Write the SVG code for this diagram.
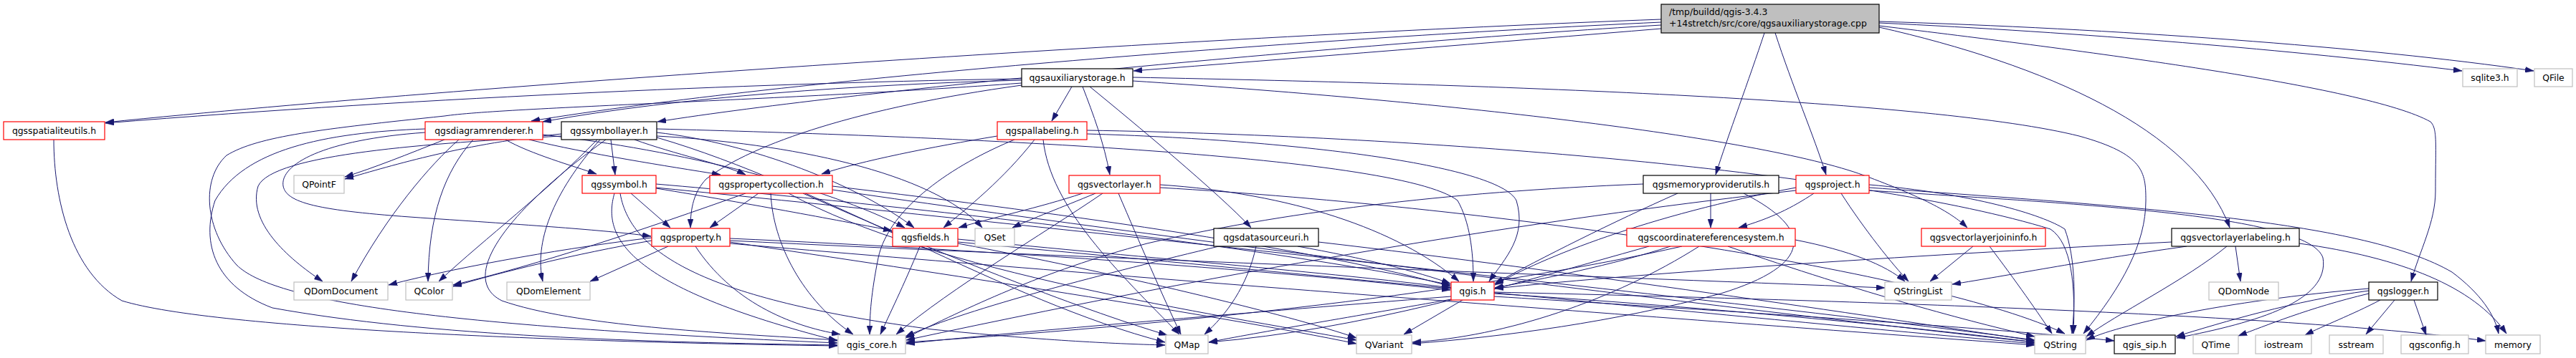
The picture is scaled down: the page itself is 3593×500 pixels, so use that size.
<svg xmlns="http://www.w3.org/2000/svg" width="3593" height="500" viewBox="0 0 3593 500">
<style>
.e{fill:none;stroke:#191970;stroke-width:1;marker-end:url(#arr)}
.red{fill:#fff;stroke:#ff0000;stroke-width:1.2}
.gry{fill:#fff;stroke:#bfbfbf;stroke-width:1.2}
.blk{fill:#fff;stroke:#000;stroke-width:1.2}
.main{fill:#bfbfbf;stroke:#000;stroke-width:1.2}
text{font-family:"DejaVu Sans","Liberation Sans",sans-serif;font-size:12.4px;fill:#000;text-anchor:middle}
text.l{text-anchor:start}
</style>
<defs>
<marker id="arr" markerUnits="userSpaceOnUse" markerWidth="12" markerHeight="8" refX="12" refY="4" orient="auto">
<path d="M0,0 L12,4 L0,8 z" fill="#191970" stroke="#191970" stroke-width="0.5"/>
</marker>
</defs>
<rect width="3593" height="500" fill="#fff"/>
<g id="edges">
<path class="e" d="M2317,40 C2100,58 1800,82 1581,99"/>
<path class="e" d="M2317,27 C1700,50 700,115 147,171"/>
<path class="e" d="M2317,31 C1800,55 1100,110 741,169"/>
<path class="e" d="M2317,35 C1900,60 1200,125 917,170"/>
<path class="e" d="M2461,46 C2440,110 2410,190 2393,244"/>
<path class="e" d="M2476,46 C2500,120 2530,190 2547,244"/>
<path class="e" d="M2621,38 C2850,90 3060,180 3110,318"/>
<path class="e" d="M2621,36 C2900,70 3300,120 3390,170 C3400,180 3397,200 3397,267 C3397,310 3375,350 3363,393"/>
<path class="e" d="M2621,32 C2900,45 3200,70 3434,99"/>
<path class="e" d="M2621,30 C2950,40 3300,65 3534,99"/>
<path class="e" d="M1495,121 L1467,169"/>
<path class="e" d="M1510,121 C1525,160 1540,200 1548,244"/>
<path class="e" d="M1520,121 C1580,170 1700,270 1745,318"/>
<path class="e" d="M1425,110 C1100,115 600,135 147,172"/>
<path class="e" d="M1425,112 C1200,118 950,135 757,170"/>
<path class="e" d="M1425,119 C1200,150 1050,200 985,250 C968,268 963,290 963,318"/>
<path class="e" d="M1425,116 C1100,140 700,150 620,162 C450,180 360,190 316,217 C280,250 285,320 330,370 C380,420 600,455 1168,479"/>
<path class="e" d="M1580,113 C2000,140 2450,190 2600,245 C2680,275 2720,295 2744,318"/>
<path class="e" d="M1580,108 C2100,118 2700,140 2900,190 C2990,215 2993,240 2993,280 C2993,340 2960,400 2906,466"/>
<path class="e" d="M1443,195 C1400,250 1350,290 1316,318"/>
<path class="e" d="M1415,195 C1330,230 1240,290 1225,360 C1215,410 1213,440 1213,467"/>
<path class="e" d="M1455,195 C1465,290 1560,380 1645,467"/>
<path class="e" d="M1516,187 C1800,195 2090,230 2115,280 C2130,330 2100,360 2077,393"/>
<path class="e" d="M1516,182 C2000,190 2600,240 2860,320 C2890,340 2895,400 2892,466"/>
<path class="e" d="M1391,190 C1300,205 1200,225 1146,243"/>
<path class="e" d="M620,195 C570,215 520,235 481,247"/>
<path class="e" d="M640,195 C600,230 540,300 490,393"/>
<path class="e" d="M660,195 C620,240 598,300 597,393"/>
<path class="e" d="M593,180 C450,185 340,210 300,280 C280,340 300,400 380,430 C600,470 900,478 1168,482"/>
<path class="e" d="M593,185 C450,195 390,230 395,260 C400,285 450,295 600,305 C750,315 850,322 908,330"/>
<path class="e" d="M705,195 C740,215 800,232 832,243"/>
<path class="e" d="M738,195 C820,215 930,232 1005,244"/>
<path class="e" d="M757,188 C950,210 1150,260 1262,318"/>
<path class="e" d="M852,195 L858,244"/>
<path class="e" d="M885,195 C940,215 1010,230 1040,244"/>
<path class="e" d="M837,195 C770,270 745,340 757,393"/>
<path class="e" d="M833,195 C760,270 680,330 612,393"/>
<path class="e" d="M845,195 C700,300 640,390 700,420 C800,455 1000,465 1168,475"/>
<path class="e" d="M783,187 C650,200 550,230 481,250"/>
<path class="e" d="M783,190 C600,200 380,215 360,260 C345,310 400,360 450,393"/>
<path class="e" d="M916,185 C1050,200 1200,260 1275,318"/>
<path class="e" d="M916,190 C1100,200 1300,240 1370,318"/>
<path class="e" d="M916,180 C1300,190 1950,215 2033,280 C2050,310 2055,350 2055,393"/>
<path class="e" d="M916,192 C1150,260 1400,420 1625,478"/>
<path class="e" d="M880,270 L935,318"/>
<path class="e" d="M857,270 C840,330 870,400 1168,476"/>
<path class="e" d="M865,270 C880,360 1000,420 1300,460 C1450,475 1550,480 1625,482"/>
<path class="e" d="M915,263 C1050,285 1180,310 1244,322"/>
<path class="e" d="M915,257 C1300,290 1800,350 2023,398"/>
<path class="e" d="M915,262 C1500,320 2500,430 2838,475"/>
<path class="e" d="M1058,270 L990,318"/>
<path class="e" d="M1075,270 C1078,340 1120,420 1190,467"/>
<path class="e" d="M1040,270 C900,320 750,370 632,398"/>
<path class="e" d="M1161,260 C1500,300 1850,350 2023,400"/>
<path class="e" d="M1100,270 C1300,380 1700,440 1892,475"/>
<path class="e" d="M1161,265 C1600,330 2400,430 2838,478"/>
<path class="e" d="M1120,270 C1300,350 1500,430 1628,468"/>
<path class="e" d="M909,336 C800,355 700,380 632,400"/>
<path class="e" d="M909,332 C800,345 650,370 542,398"/>
<path class="e" d="M932,344 L823,393"/>
<path class="e" d="M970,344 C1020,420 1100,455 1172,467"/>
<path class="e" d="M1018,333 C1400,350 1800,380 2023,405"/>
<path class="e" d="M1018,338 C1300,380 1700,440 1892,480"/>
<path class="e" d="M1018,340 C1600,390 2400,450 2838,482"/>
<path class="e" d="M1018,336 C1500,360 2200,385 2629,402"/>
<path class="e" d="M1283,344 C1260,400 1240,440 1228,467"/>
<path class="e" d="M1336,334 C1600,360 1900,385 2023,402"/>
<path class="e" d="M1336,338 C1900,390 2500,450 2838,480"/>
<path class="e" d="M1336,340 C1550,380 1800,440 1892,472"/>
<path class="e" d="M1510,270 C1450,290 1380,305 1337,318"/>
<path class="e" d="M1528,270 C1480,290 1440,305 1412,318"/>
<path class="e" d="M1538,270 C1450,330 1330,400 1250,467"/>
<path class="e" d="M1560,270 C1590,340 1620,410 1647,467"/>
<path class="e" d="M1618,258 C1800,270 1950,320 2035,393"/>
<path class="e" d="M1618,262 C2100,290 2700,380 2880,466"/>
<path class="e" d="M1700,344 C1550,380 1350,430 1263,470"/>
<path class="e" d="M1752,344 C1740,400 1710,440 1680,467"/>
<path class="e" d="M1810,344 C1900,360 1980,380 2023,396"/>
<path class="e" d="M1839,338 C2200,380 2600,440 2838,476"/>
<path class="e" d="M2386,270 L2386,318"/>
<path class="e" d="M2292,257 C2013,268 1780,298 1600,340 C1450,380 1350,430 1263,472"/>
<path class="e" d="M2340,270 C2250,310 2150,360 2085,396"/>
<path class="e" d="M2432,270 C2530,320 2530,370 2400,410 C2250,450 2100,470 1970,480"/>
<path class="e" d="M2330,344 C2250,370 2150,390 2085,402"/>
<path class="e" d="M2346,344 C2100,400 1700,450 1264,478"/>
<path class="e" d="M2370,344 C2250,420 2100,470 1970,478"/>
<path class="e" d="M2300,344 C2100,400 1900,460 1686,478"/>
<path class="e" d="M2410,344 C2600,410 2750,450 2838,470"/>
<path class="e" d="M2504,335 C2580,350 2630,370 2657,393"/>
<path class="e" d="M2530,270 C2500,290 2470,305 2425,318"/>
<path class="e" d="M2568,270 C2600,320 2640,370 2662,393"/>
<path class="e" d="M2505,262 C2300,300 2150,360 2085,398"/>
<path class="e" d="M2505,266 C2200,300 1800,360 1264,475"/>
<path class="e" d="M2607,258 C2750,270 2850,300 2880,320 C2895,360 2895,420 2890,466"/>
<path class="e" d="M2607,262 C3000,290 3300,310 3420,380 C3460,410 3480,440 3485,466"/>
<path class="e" d="M2607,266 C2900,285 3220,300 3240,360 C3250,420 3150,450 3036,472"/>
<path class="e" d="M2752,344 L2692,393"/>
<path class="e" d="M2775,344 C2810,390 2845,440 2862,466"/>
<path class="e" d="M3118,344 L3125,393"/>
<path class="e" d="M3050,344 C2900,365 2800,385 2723,397"/>
<path class="e" d="M3029,338 C2700,355 2300,380 2085,403"/>
<path class="e" d="M3106,344 C3050,390 2950,440 2910,470"/>
<path class="e" d="M3207,340 C3350,360 3450,400 3496,466"/>
<path class="e" d="M3304,410 C3220,430 3160,455 3122,469"/>
<path class="e" d="M3320,419 C3280,440 3240,455 3215,468"/>
<path class="e" d="M3340,419 L3300,467"/>
<path class="e" d="M3367,419 L3384,468"/>
<path class="e" d="M3304,406 C3200,420 3100,450 3035,470"/>
<path class="e" d="M3304,403 C3100,420 2950,455 2910,475"/>
<path class="e" d="M2024,414 C1700,440 1400,465 1264,480"/>
<path class="e" d="M2040,419 L1958,467"/>
<path class="e" d="M2084,410 C2400,430 2700,460 2838,478"/>
<path class="e" d="M2024,418 C1900,440 1750,465 1686,478"/>
<path class="e" d="M2084,414 C2500,440 2800,460 2949,476"/>
<path class="e" d="M2084,408 C2600,420 3200,440 3467,476"/>
<path class="e" d="M75,195 C75,280 100,380 170,420 C300,460 800,478 1168,483"/>
</g>
<g id="n-main"><rect class="main" x="2317" y="6" width="304" height="40"/><text class="l" x="2328" y="21">/tmp/buildd/qgis-3.4.3</text><text class="l" x="2328" y="37">+14stretch/src/core/qgsauxiliarystorage.cpp</text></g>
<g id="n-qas"><rect class="blk" x="1425" y="96" width="155" height="25"/><text x="1502.5" y="113">qgsauxiliarystorage.h</text></g>
<g id="n-sqlite"><rect class="gry" x="3435" y="96" width="76" height="25"/><text x="3473" y="113">sqlite3.h</text></g>
<g id="n-qfile"><rect class="gry" x="3535" y="96" width="53" height="25"/><text x="3561.5" y="113">QFile</text></g>
<g id="n-spat"><rect class="red" x="5" y="170" width="141" height="25"/><text x="75.5" y="187">qgsspatialiteutils.h</text></g>
<g id="n-diag"><rect class="red" x="593" y="170" width="164" height="25"/><text x="675" y="187">qgsdiagramrenderer.h</text></g>
<g id="n-symlayer"><rect class="blk" x="783" y="170" width="133" height="25"/><text x="849.5" y="187">qgssymbollayer.h</text></g>
<g id="n-pal"><rect class="red" x="1391" y="170" width="125" height="25"/><text x="1453.5" y="187">qgspallabeling.h</text></g>
<g id="n-qpointf"><rect class="gry" x="410" y="245" width="70" height="25"/><text x="445" y="262">QPointF</text></g>
<g id="n-symbol"><rect class="red" x="812" y="245" width="103" height="25"/><text x="863.5" y="262">qgssymbol.h</text></g>
<g id="n-propcoll"><rect class="red" x="990" y="245" width="171" height="25"/><text x="1075.5" y="262">qgspropertycollection.h</text></g>
<g id="n-veclayer"><rect class="red" x="1491" y="245" width="127" height="25"/><text x="1554.5" y="262">qgsvectorlayer.h</text></g>
<g id="n-memprov"><rect class="blk" x="2292" y="245" width="189" height="25"/><text x="2386.5" y="262">qgsmemoryproviderutils.h</text></g>
<g id="n-project"><rect class="red" x="2505" y="245" width="102" height="25"/><text x="2556" y="262">qgsproject.h</text></g>
<g id="n-prop"><rect class="red" x="909" y="319" width="109" height="25"/><text x="963.5" y="336">qgsproperty.h</text></g>
<g id="n-fields"><rect class="red" x="1245" y="319" width="91" height="25"/><text x="1290.5" y="336">qgsfields.h</text></g>
<g id="n-qset"><rect class="gry" x="1360" y="319" width="55" height="25"/><text x="1387.5" y="336">QSet</text></g>
<g id="n-dsuri"><rect class="blk" x="1693" y="319" width="146" height="25"/><text x="1766" y="336">qgsdatasourceuri.h</text></g>
<g id="n-crs"><rect class="red" x="2269" y="319" width="235" height="25"/><text x="2386.5" y="336">qgscoordinatereferencesystem.h</text></g>
<g id="n-vljoin"><rect class="red" x="2680" y="319" width="173" height="25"/><text x="2766.5" y="336">qgsvectorlayerjoininfo.h</text></g>
<g id="n-vllabel"><rect class="blk" x="3029" y="319" width="178" height="25"/><text x="3118" y="336">qgsvectorlayerlabeling.h</text></g>
<g id="n-qdomdoc"><rect class="gry" x="410" y="394" width="131" height="25"/><text x="475.5" y="411">QDomDocument</text></g>
<g id="n-qcolor"><rect class="gry" x="566" y="394" width="65" height="25"/><text x="598.5" y="411">QColor</text></g>
<g id="n-qdomel"><rect class="gry" x="707" y="394" width="116" height="25"/><text x="765" y="411">QDomElement</text></g>
<g id="n-qgis"><rect class="red" x="2024" y="394" width="60" height="25"/><text x="2054" y="411">qgis.h</text></g>
<g id="n-qstrlist"><rect class="gry" x="2629" y="394" width="93" height="25"/><text x="2675.5" y="411">QStringList</text></g>
<g id="n-qdomnode"><rect class="gry" x="3081" y="394" width="97" height="25"/><text x="3129.5" y="411">QDomNode</text></g>
<g id="n-logger"><rect class="blk" x="3304" y="394" width="96" height="25"/><text x="3352" y="411">qgslogger.h</text></g>
<g id="n-qgiscore"><rect class="gry" x="1169" y="468" width="94" height="26"/><text x="1216" y="486">qgis_core.h</text></g>
<g id="n-qmap"><rect class="gry" x="1626" y="468" width="59" height="26"/><text x="1655.5" y="486">QMap</text></g>
<g id="n-qvariant"><rect class="gry" x="1892" y="468" width="77" height="26"/><text x="1930.5" y="486">QVariant</text></g>
<g id="n-qstring"><rect class="gry" x="2838" y="468" width="71" height="26"/><text x="2873.5" y="486">QString</text></g>
<g id="n-qgissip"><rect class="blk" x="2949" y="468" width="85" height="26"/><text x="2991.5" y="486">qgis_sip.h</text></g>
<g id="n-qtime"><rect class="gry" x="3059" y="468" width="63" height="26"/><text x="3090.5" y="486">QTime</text></g>
<g id="n-iostream"><rect class="gry" x="3146" y="468" width="78" height="26"/><text x="3185" y="486">iostream</text></g>
<g id="n-sstream"><rect class="gry" x="3249" y="468" width="75" height="26"/><text x="3286.5" y="486">sstream</text></g>
<g id="n-qgsconfig"><rect class="gry" x="3349" y="468" width="94" height="26"/><text x="3396" y="486">qgsconfig.h</text></g>
<g id="n-memory"><rect class="gry" x="3467" y="468" width="76" height="26"/><text x="3505" y="486">memory</text></g>
</svg>
